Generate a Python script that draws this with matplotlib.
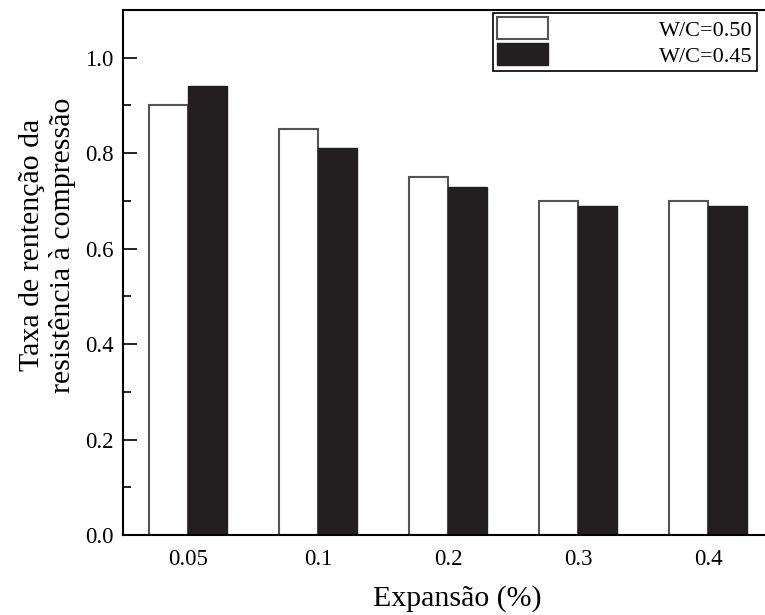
import numpy as np
import matplotlib.pyplot as plt

categorias = ['0.05', '0.1', '0.2', '0.3', '0.4']
wc_050 = [0.90, 0.85, 0.75, 0.70, 0.70]
wc_045 = [0.94, 0.81, 0.73, 0.69, 0.69]

plt.rcParams['font.family'] = ['Liberation Serif', 'DejaVu Serif']

fig = plt.figure(figsize=(7.65, 6.15), dpi=100)
ax = fig.add_axes([123 / 765, 80 / 615, 650 / 765, 525 / 615])

x = np.arange(len(categorias))
w = 0.3
ax.bar(x - w / 2, wc_050, w, color='white', edgecolor='#555555', linewidth=1.5,
       label='W/C=0.50')
ax.bar(x + w / 2, wc_045, w, color='#231f20', edgecolor='#231f20', linewidth=1.0,
       label='W/C=0.45')

ax.set_xlim(-0.5, 4.5)
ax.set_ylim(0, 1.1)
ax.set_xticks(x)
ax.set_xticklabels(categorias)
ax.set_yticks([0.0, 0.2, 0.4, 0.6, 0.8, 1.0])
ax.set_yticks(np.arange(0.1, 1.1, 0.2), minor=True)
ax.tick_params(axis='x', length=0, labelsize=16.5, pad=10)
ax.tick_params(axis='y', which='major', direction='in', length=10, width=1.2,
               labelsize=16.5, pad=7)
ax.tick_params(axis='y', which='minor', direction='in', length=6, width=1.2)
for s in ax.spines.values():
    s.set_linewidth(1.5)

ax.set_xlabel('Expansão (%)', fontsize=21.5)
ax.xaxis.set_label_coords(0.515, -0.095)
ax.set_ylabel('Taxa de rentenção da\nresistência à compressão', fontsize=21.5,
              linespacing=1.2, va='center')
ax.yaxis.set_label_coords(-0.116, 0.552)

leg = ax.legend(loc='upper right', bbox_to_anchor=(0.975, 0.994), fontsize=16,
                frameon=True, fancybox=False, edgecolor='black', framealpha=1,
                handlelength=2.3, handleheight=1.13, handletextpad=5.0,
                labelspacing=0.13, borderpad=0.18, borderaxespad=0)
leg.get_frame().set_linewidth(1.2)

fig.savefig('out.png', dpi=100)
